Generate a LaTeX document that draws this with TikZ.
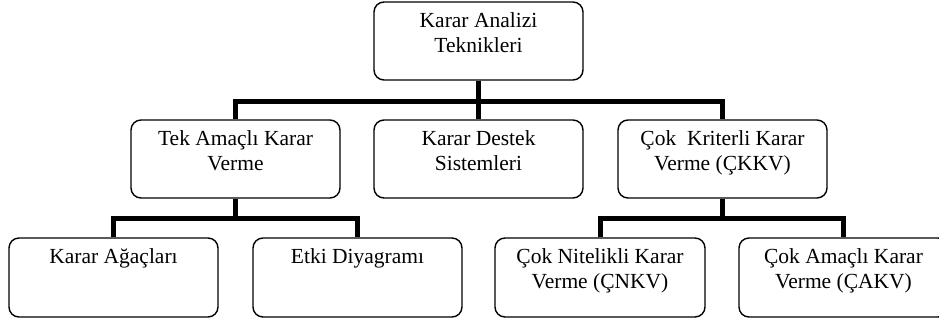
\documentclass[tikz,border=0pt]{standalone}
\usepackage{fontspec}
\setmainfont{Liberation Serif}
\begin{document}
\begin{tikzpicture}[x=1pt,y=1pt,
  box/.style={draw=black, line width=1.4pt, rounded corners=10pt, minimum width=209pt, minimum height=78pt, inner sep=0pt},
  txt/.style={anchor=north, inner sep=0pt, align=center, yshift=-8.4pt, font=\fontsize{21.5}{25}\selectfont},
  conn/.style={line width=5pt}]
\useasboundingbox (0,0) rectangle (939,322);
\clip (0,0) rectangle (939,322);
\node[box] (top) at (478.5,281) {};
\node[box] (tek) at (235.5,163) {};
\node[box] (kds) at (478.5,163) {};
\node[box] (ckkv) at (722.5,163) {};
\node[box, minimum height=79pt] (ka) at (113.5,44.5) {};
\node[box, minimum height=79pt] (etki) at (357.5,44.5) {};
\node[box, minimum height=79pt, minimum width=210pt] (cnkv) at (600,44.5) {};
\node[box, minimum height=79pt] (cakv) at (843.5,44.5) {};
\node[txt] (ttop) at (top.north) {\strut Karar Analizi\\\strut Teknikleri};
\node[txt] (ttek) at (tek.north) {\strut Tek Amaçlı Karar\\\strut Verme};
\node[txt] (tkds) at (kds.north) {\strut Karar Destek\\\strut Sistemleri};
\node[txt] (tckkv) at (ckkv.north) {\strut Çok\ \ Kriterli Karar\\\strut Verme (ÇKKV)};
\node[txt] (tka) at (ka.north) {\strut Karar Ağaçları};
\node[txt] (tetki) at (etki.north) {\strut Etki Diyagramı};
\node[txt] (tcnkv) at (cnkv.north) {\strut Çok Nitelikli Karar\\\strut Verme (ÇNKV)};
\node[txt] (tcakv) at (cakv.north) {\strut Çok Amaçlı Karar\\\strut Verme (ÇAKV)};
\coordinate (bar1) at (478.5,221);
\coordinate (bar2) at (235.5,104);
\coordinate (bar3) at (722.5,104);
\draw[conn] (top.south) -- (kds.north);
\draw[conn] (tek.north) |- (bar1) -| (ckkv.north);
\draw[conn] (tek.south) -- (bar2);
\draw[conn] (ka.north) |- (bar2) -| (etki.north);
\draw[conn] (ckkv.south) -- (bar3);
\draw[conn] (cnkv.north) |- (bar3) -| (cakv.north);
\end{tikzpicture}
\end{document}
